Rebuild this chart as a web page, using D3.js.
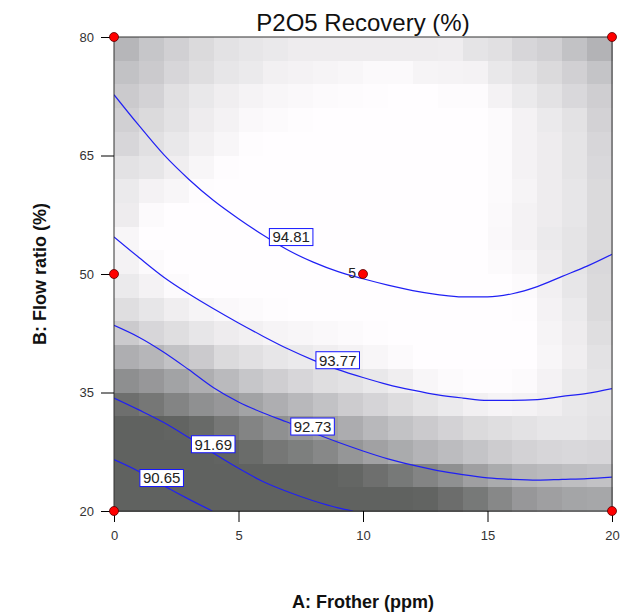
<!DOCTYPE html>
<html>
<head>
<meta charset="utf-8">
<script src="https://cdn.jsdelivr.net/npm/d3@7"></script>
<style>
  body { margin: 0; background: #fff; }
  svg { display: block; }
  text { font-family: Arial, "Liberation Sans", sans-serif; }
</style>
</head>
<body>
<svg id="chart" width="621" height="616"></svg>
<script>
// ---- data -------------------------------------------------------------
const titleText = "P2O5 Recovery (%)";
const xLabel = "A: Frother (ppm)";
const yLabel = "B: Flow ratio (%)";
const xTicks = [0, 5, 10, 15, 20];
const yTicks = [20, 35, 50, 65, 80];

// background shading, one value per grid cell (rows from B = 80 down to 20, columns A = 0 .. 20)
const shadeRows = [
  [184,200,210,220,228,232,235,238,238,238,238,238,238,239,230,226,216,210,196,181],
  [196,204,216,224,232,236,242,244,246,248,251,251,246,245,244,234,228,220,210,198],
  [204,212,226,234,240,245,248,250,252,253,254,255,255,253,253,244,236,228,218,208],
  [210,220,228,238,244,250,252,254,255,255,255,255,255,255,255,252,244,236,228,212],
  [216,226,234,242,248,254,255,255,255,255,255,255,255,255,255,252,244,238,230,216],
  [228,232,240,248,254,255,255,255,255,255,255,255,255,255,255,252,244,238,230,218],
  [236,244,248,254,255,255,255,255,255,255,255,255,255,255,255,252,246,238,232,220],
  [238,252,255,255,255,255,255,255,255,255,255,255,255,255,255,251,244,238,232,220],
  [248,255,255,255,255,255,255,255,255,255,255,255,255,255,255,250,244,236,230,220],
  [244,252,255,255,255,255,255,255,255,255,255,255,255,255,255,252,248,238,230,218],
  [236,244,252,255,255,255,255,255,255,255,255,255,255,255,255,255,252,242,232,220],
  [224,232,240,246,250,252,254,255,255,255,255,255,255,255,255,255,254,244,236,220],
  [204,216,224,232,238,242,246,248,250,252,254,255,255,255,255,255,255,246,238,224],
  [176,184,196,204,220,226,232,236,240,244,248,252,255,255,255,255,255,248,240,228],
  [143,152,164,176,188,200,208,216,224,228,234,240,248,252,254,254,252,244,236,230],
  [110,118,132,144,152,164,176,186,196,206,214,222,230,236,242,246,244,240,234,230],
  [ 96, 96, 98,104,118,132,144,152,162,174,186,196,204,212,220,224,228,232,232,228],
  [ 96, 96, 96, 96, 98,106,118,126,136,150,162,172,182,190,198,206,212,216,218,216],
  [ 96, 96, 96, 96, 96, 96, 96, 96, 96,100,110,120,132,144,160,172,184,188,192,196],
  [ 96, 96, 96, 96, 96, 96, 96, 96, 96, 96, 96, 96, 98,108,120,136,152,160,166,168]
];

// contour levels and their traced paths as [frother, flow ratio]
const contourLevels = [90.65, 91.69, 92.73, 93.77, 94.81];
const trace9065 = [[0,26.5],[1,25.0],[2,23.2],[3,21.5],[3.95,20.0]];
const trace9169 = [[0,34.3],[1,32.8],[2,31.2],[3,29.3],[4,27.3],[5,25.4],[6,23.7],[7,22.4],[8,21.3],[9,20.4],[9.6,20.0]];
const trace9273 = [[0,43.5],[1,42.0],[2,40.1],[3,37.9],[4,35.6],[5,33.8],[6,32.4],[7,31.2],[8,29.9],[9,28.7],[10,27.6],
                   [11,26.6],[12,25.8],[13,25.1],[14,24.6],[15,24.2],[16,24.0],[17,23.9],[18,24.0],[19,24.1],[20,24.3]];
const trace9377 = [[0,54.7],[1,52.1],[2,49.6],[3,47.5],[4,45.6],[5,43.8],[6,42.1],[7,40.5],[8,39.1],[9,37.9],[10,36.9],
                   [11,36.0],[12,35.3],[13,34.7],[14,34.3],[15,34.0],[16,34.0],[17,34.1],[18,34.5],[19,34.9],[20,35.5]];
const trace9481 = [[0,72.7],[1,68.8],[2,65.1],[3,62.0],[4,59.3],[5,57.0],[6,54.9],[7,53.0],[8,51.5],[9,50.3],[10,49.4],
                   [11,48.6],[12,47.9],[13,47.4],[14,47.1],[15,47.1],[16,47.5],[17,48.4],[18,49.7],[19,51.0],[20,52.5]];
const contourTraces = [trace9065, trace9169, trace9273, trace9377, trace9481];

// design points and their replicate counts
const designA = [0, 0, 0, 10, 20, 20];
const designB = [20, 50, 80, 50, 20, 80];
const replicates = [1, 1, 1, 5, 1, 1];

// ---- layout -----------------------------------------------------------
const plot = { left: 114, right: 612, top: 37, bottom: 511 };
const labelStartA = [1.04, 3.11, 7.1, 8.11, 6.24];   // where each level's tag begins along its line
const labelShiftY = [6, 5, 3, -1, -2];               // tag centre offset from the line, px

const svg = d3.select("#chart");
const x = d3.scaleLinear().domain([0, 20]).range([plot.left, plot.right]);
const y = d3.scaleLinear().domain([20, 80]).range([plot.bottom, plot.top]);
const shadeColor = d3.scaleLinear()
  .domain([96, 184, 255])
  .range(["#606260", "#b6b6b9", "#fffdff"])
  .clamp(true);

// shaded grid
const nCols = shadeRows[0].length, nRows = shadeRows.length;
const aStep = 20 / nCols, bStep = 60 / nRows;
const cells = [];
shadeRows.forEach((row, r) => row.forEach((v, c) => cells.push({ r, c, v })));
svg.append("g").attr("shape-rendering", "crispEdges")
  .selectAll("rect").data(cells).join("rect")
  .attr("x", d => x(d.c * aStep))
  .attr("y", d => y(80 - d.r * bStep))
  .attr("width", d => x((d.c + 1) * aStep) - x(d.c * aStep) + 0.5)
  .attr("height", d => y(80 - (d.r + 1) * bStep) - y(80 - d.r * bStep) + 0.5)
  .attr("fill", d => shadeColor(d.v));

// contour lines
svg.append("clipPath").attr("id", "plotClip")
  .append("rect").attr("x", plot.left).attr("y", plot.top)
  .attr("width", plot.right - plot.left).attr("height", plot.bottom - plot.top);

const line = d3.line().x(d => x(d[0])).y(d => y(d[1])).curve(d3.curveMonotoneX);
const lineG = svg.append("g").attr("clip-path", "url(#plotClip)");
const paths = contourTraces.map(t =>
  lineG.append("path").attr("d", line(t))
    .attr("fill", "none").attr("stroke", "#2020f4").attr("stroke-width", 1.2).node());

// point on a path at a given horizontal position
function pointAtX(path, px) {
  let lo = 0, hi = path.getTotalLength();
  for (let k = 0; k < 40; k++) {
    const mid = (lo + hi) / 2;
    if (path.getPointAtLength(mid).x < px) lo = mid; else hi = mid;
  }
  return path.getPointAtLength((lo + hi) / 2);
}

// level tags
const tagG = svg.append("g");
contourLevels.forEach((lev, i) => {
  const px = x(labelStartA[i]);
  const cy = pointAtX(paths[i], px).y + labelShiftY[i];
  const g = tagG.append("g");
  const rect = g.append("rect");
  const txt = g.append("text").text(lev.toFixed(2))
    .attr("font-size", 15).attr("fill", "#222")
    .attr("x", px + 3).attr("y", cy).attr("dy", "0.36em");
  const w = txt.node().getComputedTextLength();
  rect.attr("x", px).attr("y", cy - 8.5).attr("width", w + 6).attr("height", 17)
    .attr("fill", "#fff").attr("stroke", "#1414ff").attr("stroke-width", 1);
});

// frame
svg.append("rect")
  .attr("x", plot.left).attr("y", plot.top)
  .attr("width", plot.right - plot.left).attr("height", plot.bottom - plot.top)
  .attr("fill", "none").attr("stroke", "#333").attr("stroke-width", 1);

// axes
const yAxis = svg.append("g").attr("transform", `translate(${plot.left},0)`)
  .call(d3.axisLeft(y).tickValues(yTicks).tickSize(13).tickPadding(7).tickFormat(d3.format("d")));
const xAxis = svg.append("g").attr("transform", `translate(0,${plot.bottom})`)
  .call(d3.axisBottom(x).tickValues(xTicks).tickSize(11).tickPadding(9).tickFormat(d3.format("d")));
[yAxis, xAxis].forEach(a => {
  a.select(".domain").remove();
  a.selectAll(".tick line").attr("stroke", "#000");
  a.selectAll(".tick text").attr("font-size", 13).attr("fill", "#333")
    .attr("font-family", 'Arial, "Liberation Sans", sans-serif');
});

// design points
const pts = designA.map((a, i) => ({ a, b: designB[i], n: replicates[i] }));
svg.append("g").selectAll("circle").data(pts).join("circle")
  .attr("cx", d => x(d.a)).attr("cy", d => y(d.b)).attr("r", 4.5)
  .attr("fill", "#ff0000").attr("stroke", "#500").attr("stroke-width", 0.8);
svg.append("g").selectAll("text").data(pts.filter(d => d.n > 1)).join("text")
  .attr("x", d => x(d.a) - 7).attr("y", d => y(d.b) + 4)
  .attr("text-anchor", "end").attr("font-size", 14).attr("fill", "#222")
  .text(d => d.n);

// titles
svg.append("text").attr("x", (plot.left + plot.right) / 2).attr("y", 31)
  .attr("text-anchor", "middle").attr("font-size", 24).attr("fill", "#111").text(titleText);
svg.append("text").attr("x", (plot.left + plot.right) / 2).attr("y", 608)
  .attr("text-anchor", "middle").attr("font-size", 18).attr("font-weight", "bold").attr("fill", "#111").text(xLabel);
svg.append("text").attr("transform", `translate(46,${(plot.top + plot.bottom) / 2}) rotate(-90)`)
  .attr("text-anchor", "middle").attr("font-size", 18).attr("font-weight", "bold").attr("fill", "#111").text(yLabel);
</script>
</body>
</html>
